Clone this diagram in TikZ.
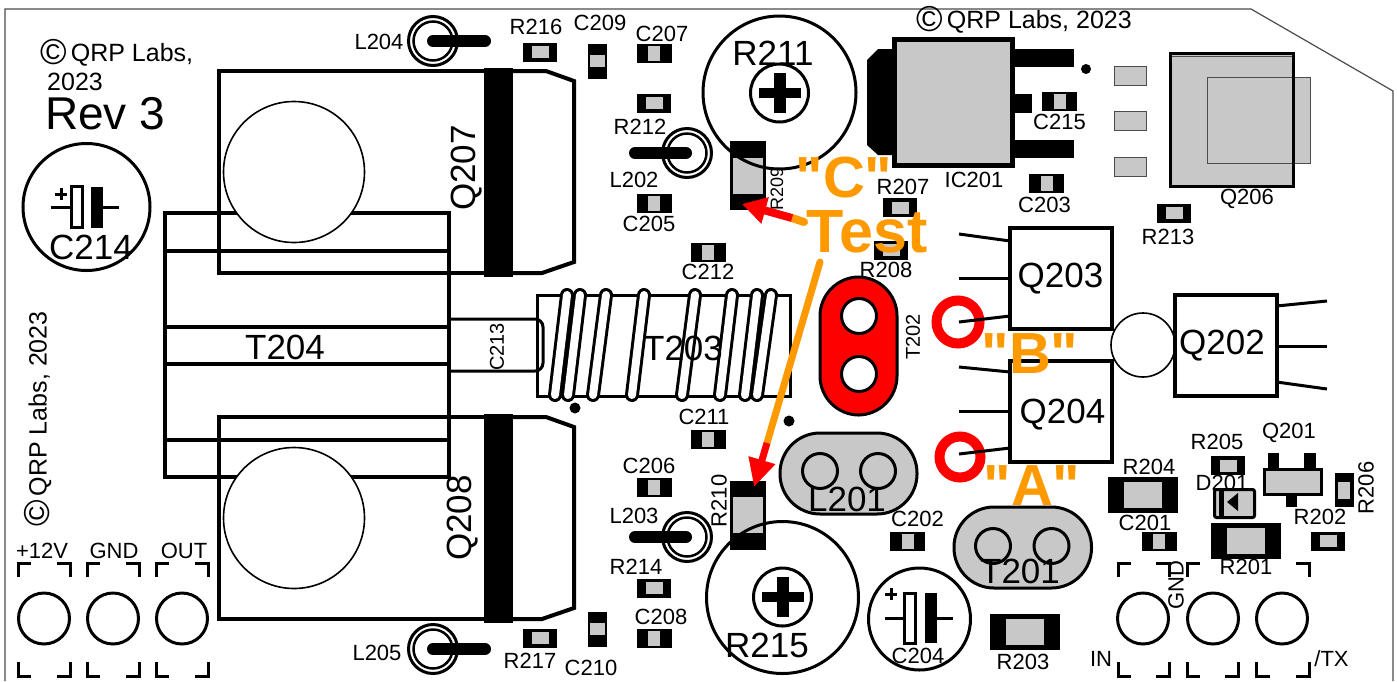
\documentclass[tikz,border=0pt]{standalone}
\usepackage{fontspec}
\setmainfont{Liberation Sans}
\newfontfamily\testfont[BoldFont={Liberation Sans Bold}]{Liberation Sans}
\usetikzlibrary{arrows.meta}
\definecolor{partgray}{HTML}{C8C8C8}
\definecolor{testorange}{HTML}{FF9900}
\newcommand{\fsz}[1]{\fontsize{#1}{#1}\selectfont}
\newcommand{\copyr}{\raisebox{-3pt}{\fsz{36}©}}
\tikzset{
    lbl/.style={font=\fsz{22},inner sep=0pt},
    lblbig/.style={font=\fsz{35},inner sep=0pt},
    lblcopy/.style={font=\fsz{25},inner sep=0pt},
    lbltest/.style={font=\testfont\bfseries\fsz{58},text=testorange,inner sep=0pt},
    heavy/.style={line width=4pt},
    body/.style={line width=3pt},
    thin line/.style={line width=1.6pt},
    pads/.style={fill=partgray,draw=black!70,line width=1pt},
    rpart/.pic={
        \fill (-17,-9.5) rectangle (17,9.5);
        \fill[partgray] (-8.5,-6) rectangle (8.5,6);
    },
    cpart/.pic={
        \fill (-17.5,-9.5) rectangle (17.5,9.5);
        \fill[partgray] (-6,-7.5) rectangle (6,7.5);
    },
    rbig/.pic={
        \fill (-35,-18) rectangle (35,18);
        \fill[partgray] (-19,-13) rectangle (19,13);
    },
    rtrim/.pic={
        \fill (-18,-34.5) rectangle (18,34.5);
        \fill[partgray] (-15,-18) rectangle (15,18);
    },
    choke/.pic={
        \draw[line width=3pt] (0,0) circle (24.5);
        \draw[line width=2.5pt] (0,0) circle (19.5);
    },
    screw/.pic={
        \draw[body] (0,0) circle (29);
        \fill (-21,-5) rectangle (21,5);
        \fill (-6,-20) rectangle (6,20);
    },
    pin/.pic={
        \draw[body] (0,0) circle (25.5);
    },
    elcap/.pic={
        \draw[body] (-14,-25) rectangle (-3,25);
        \fill (6,-25) rectangle (18,25);
        \draw[body] (-34,0) -- (-14,0) (18,0) -- (34,0);
    },
    cornertl/.pic={\draw[body] (0,14) -- (0,0) -- (13,0);},
    cornertr/.pic={\draw[body] (0,14) -- (0,0) -- (-13,0);},
    cornerbl/.pic={\draw[body] (0,-14) -- (0,0) -- (13,0);},
    cornerbr/.pic={\draw[body] (0,-14) -- (0,0) -- (-13,0);},
}
\begin{document}
\begin{tikzpicture}[x=1pt,y=-1pt]
    \useasboundingbox (0,0) rectangle (1397,681);
    \fill[white] (0,0) rectangle (1397,681);
    \draw[black!70,line width=1.2pt] (5,681) -- (5,9) -- (1251,9) -- (1393,91) -- (1393,681);

    \draw[heavy] (165,213) rectangle (449,477);
    \foreach \y in {251,327,364,440}
        \draw[heavy] (165,\y) -- (449,\y);
    \draw[heavy] (484,71) -- (219,71) -- (219,273) -- (484,273);
    \draw[heavy] (484,417) -- (219,417) -- (219,619) -- (484,619);
    \draw[thin line,fill=white] (294,172) circle (70.5);
    \draw[thin line,fill=white] (294,518) circle (70.5);
    \fill (484,68) rectangle (513,277);
    \fill (484,414) rectangle (513,623);
    \draw[heavy] (513,71) -- (546,71) -- (574,81) -- (574,262) -- (542,273) -- (513,273);
    \draw[heavy] (513,417) -- (546,417) -- (574,427) -- (574,608) -- (542,619) -- (513,619);

    \draw[body] (537,295) rectangle (790,396);
    \draw[body,rounded corners=8pt] (449,319) -- (543,319) -- (543,371) -- (449,371);
    \foreach \tx/\bx in {567/555,580/568,606/593,644/632,695/682,732/720,757/745,771/757} {
        \draw[line width=14pt,line cap=round] (\tx,295) -- (\bx,395);
        \draw[white,line width=8pt,line cap=round] (\tx,295) -- (\bx,395);
    }
    \fill (575,408) circle (5.5);
    \fill (789,421) circle (5.5);
    \fill (1086,69) circle (5);

    \foreach \x/\y in {433/41,687/153,687/537,433/649}
        \pic at (\x,\y) {choke};
    \foreach \x/\y/\a/\b in {433/41/433/485,687/153/635/686,687/537/635/686,433/649/433/485}
        \draw[line width=12pt,line cap=round] (\a,\y) -- (\b,\y);

    \draw[body] (86.5,207) circle (63.5);
    \pic[yscale=.82] at (85,207) {elcap};
    \draw[line width=3pt] (61,188) -- (61,200) (55,194) -- (67,194);
    \draw[body] (919.5,619) circle (51);
    \pic at (918.5,618) {elcap};
    \draw[line width=3pt] (891,588) -- (891,600) (885,594) -- (897,594);

    \pic at (748,175.5) {rtrim};
    \pic at (748,515) {rtrim};
    \draw[body] (779.5,92.5) circle (76.5);
    \pic at (779.5,93) {screw};
    \draw[body] (782.5,597.5) circle (76);
    \pic at (782.5,597) {screw};

    \foreach \x/\y in {540/52,654/103,900/207.5,891/250,1174/213,1228/465.5,1328/541,654/588,540/638}
        \pic at (\x,\y) {rpart};
    \foreach \x/\y in {654/53,654/203,708/252,708/439,654/487,654/638,1059.5/101,1046.5/183,907.5/541,1159/541}
        \pic at (\x,\y) {cpart};
    \pic[rotate=90] at (597,61) {cpart};
    \pic[rotate=90] at (597,629) {cpart};
    \pic[rotate=90] at (1344,490) {rpart};
    \foreach \x/\y in {1143/495,1245.5/541,1025/632}
        \pic at (\x,\y) {rbig};

    \fill (867,60) -- (878,49) -- (899,49) -- (899,155) -- (878,155) -- (867,145) -- cycle;
    \fill (1012,49) rectangle (1074,67);
    \fill (1012,94) rectangle (1032,113);
    \fill (1012,140) rectangle (1074,158);
    \draw[line width=5pt,fill=partgray] (894,39) rectangle (1012,165);

    \foreach \y in {66,111,157}
        \draw[pads] (1114,\y) rectangle (1146,\y+19);
    \fill[partgray] (1169,52) rectangle (1294,187);
    \draw[pads] (1207.5,77) rectangle (1310.5,163);
    \draw[black!70,line width=1pt] (1169,56) -- (1294,56);
    \draw[body] (1170.5,53.5) rectangle (1293.5,186);

    \draw[line width=3pt,fill=red,rounded corners=39pt] (820,277) rectangle (897,415);
    \draw[line width=3pt,fill=white] (859,316) circle (17.5);
    \draw[line width=3pt,fill=white] (859,374) circle (17.5);

    \draw[red,line width=10pt] (958,322) circle (21.5);
    \draw[red,line width=10pt] (960,457) circle (20.5);

    \draw[thin line,fill=white] (1143,345) circle (32);
    \draw[heavy,fill=white] (1010,228) rectangle (1112,329);
    \draw[heavy,fill=white] (1010,361) rectangle (1112,462);
    \draw[heavy,fill=white] (1175,295) rectangle (1276.5,396);
    \foreach \a/\b in {234/241,278/278,322/316,367/372,411/411,454/448}
        \draw[body] (959,\a) -- (1010,\b);
    \draw[body] (1276.5,306) -- (1327,301);
    \draw[body] (1276.5,346) -- (1327,346);
    \draw[body] (1276.5,382) -- (1327,389);

    \draw[line width=3pt,fill=partgray,rounded corners=40pt] (780,433) rectangle (917,514);
    \draw[body] (820,471) circle (17.5);
    \draw[body] (878,471) circle (17.5);
    \draw[line width=3pt,fill=partgray,rounded corners=40pt] (954,507) rectangle (1091.5,588);
    \draw[body] (993,546) circle (17.5);
    \draw[body] (1051.5,546) circle (17.5);

    \foreach \x in {44,113,182,1143,1213,1282}
        \pic at (\x,618.5) {pin};
    \foreach \x in {18,87,156,1118,1187}
        \pic at (\x,563) {cornertl};
    \foreach \x in {70,139,208,1169,1309}
        \pic at (\x,563) {cornertr};
    \foreach \x in {18,87,156,1118,1187,1256.5}
        \pic at (\x,676) {cornerbl};
    \foreach \x in {70,139,208,1169,1238,1309}
        \pic at (\x,676) {cornerbr};

    \fill (1268,453) rectangle (1279,470);
    \fill (1304,453) rectangle (1316,470);
    \fill (1286,493) rectangle (1297,507);
    \draw[body,fill=partgray] (1264,469) rectangle (1321,494);

    \foreach \x/\y/\t in {379/42/L204,536/27/R216,600/23/C209,662/34/C207,640/127/R212,634/180/L202,
        649/224/C205,708/272/C212,704/417/C211,903/187/R207,886/270/R208,974/180/IC201,1059.5/122/C215,
        1044.5/205/C203,1247/199/Q206,1168/237/R213,649/466/C206,634/516/L203,636/567/R214,661/617/C208,
        530/661/R217,591/668/C210,377/653/L205,917.5/519/C202,918/656/C204,1023/662/R203,1149/467/R204,
        1145/523/C201,1217/442/R205,1289/433/Q201,1222/483/D201,1320/517/R202,1246/567/R201}
        \node[lbl] (\t) at (\x,\y) {\t};
    \foreach \x/\y/\t in {773/53/R211,767/645/R215,285/347/T204,683/348/T203,1060.5/279/Q203,
        1062.5/415/Q204,1222/346/Q202,847/499/L201,1020/571/T201,91/247/C214}
        \node[lblbig] (\t) at (\x,\y) {\t};
    \node[lblbig,rotate=90] (Q207) at (467,168) {Q207};
    \node[lblbig,rotate=90] (Q208) at (463,518) {Q208};
    \node[lbl,rotate=90,font=\fsz{20}] (C213) at (497,347) {C213};
    \node[lbl,rotate=90,font=\fsz{18}] (R209) at (777,189) {R209};
    \node[lbl,rotate=90] (R210) at (719,501) {R210};
    \node[lbl,rotate=90,font=\fsz{20}] (T202) at (913,337) {T202};
    \node[lbl,rotate=90] (R206) at (1366,488) {R206};
    \node[lbl,rotate=90] (GNDb) at (1176,585) {GND};
    \node[lbl] (plus) at (42,551) {+12V};
    \node[lbl] (GNDa) at (114,551) {GND};
    \node[lbl] (OUT) at (184,551) {OUT};
    \node[lbl] (IN) at (1101,659) {IN};
    \node[lbl] (TX) at (1331.5,659) {/TX};
    \node[lblcopy,anchor=west] (copya) at (40,53) {\copyr\,QRP Labs,};
    \node[lblcopy,anchor=west] (year) at (47,82) {2023};
    \node[font=\fsz{46},inner sep=0pt,anchor=west] (rev) at (45,114) {Rev 3};
    \node[lblcopy,anchor=west] (copyb) at (916,20) {\copyr\,QRP Labs, 2023};
    \node[lblcopy,anchor=west,rotate=90] (copyc) at (38,527) {\copyr\,QRP Labs, 2023};

    \draw[line width=3pt,fill=partgray,rounded corners=2pt] (1214.5,489.5) rectangle (1254.5,517.5);
    \fill (1219,489) rectangle (1224,518);
    \fill (1238,493) -- (1238,511) -- (1227,502) -- cycle;

    \coordinate (cstart) at (804,222);
    \coordinate (cmid) at (792,218);
    \coordinate (ctip) at (742,204);
    \coordinate (tstart) at (820,262);
    \coordinate (tmid) at (767,443);
    \coordinate (ttip) at (754,487);
    \draw[testorange,line width=8pt,line cap=round] (cstart) -- (cmid);
    \draw[red,line width=8pt,-{Triangle[length=24pt,width=26pt]}] (cmid) -- (ctip);
    \draw[testorange,line width=7pt,line cap=round] (tstart) -- (tmid);
    \draw[red,line width=7pt,-{Triangle[length=28pt,width=26pt]}] (tmid) -- (ttip);

    \node[lbltest] (testc) at (844,178) {"C"};
    \node[lbltest,font=\testfont\bfseries\fsz{61}] (testt) at (867,232) {Test};
    \node[lbltest] (testb) at (1030,354) {"B"};
    \node[lbltest] (testa) at (1032,486) {"A"};
\end{tikzpicture}
\end{document}
